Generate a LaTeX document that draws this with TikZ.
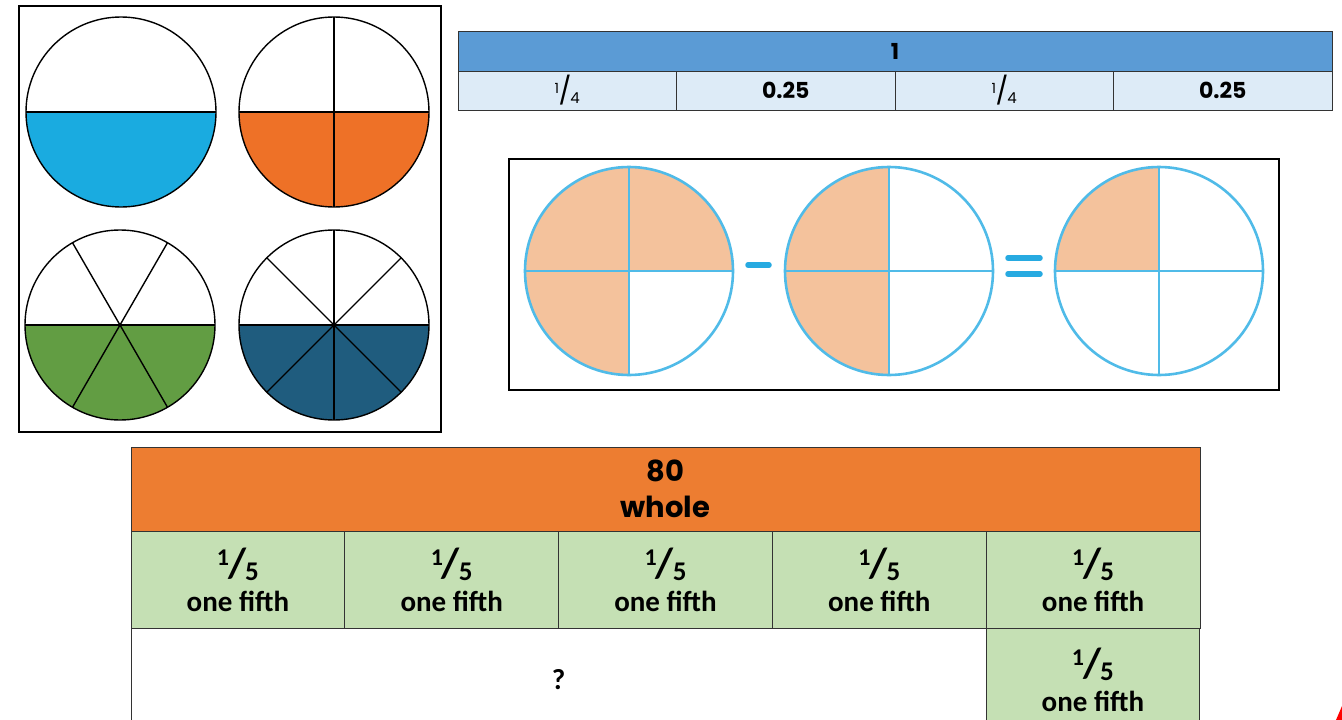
\documentclass[tikz,border=0pt]{standalone}
\usepackage{fontspec}
\setmainfont{Poppins}
\newfontfamily\calibfont{Carlito}
\usetikzlibrary{positioning}

\definecolor{halfblue}{HTML}{1AABE0}
\definecolor{quartorange}{HTML}{EE7127}
\definecolor{sixthgreen}{HTML}{629D43}
\definecolor{eighthnavy}{HTML}{1F5C7E}
\definecolor{headblue}{HTML}{5B9BD5}
\definecolor{cellblue}{HTML}{DDEBF7}
\definecolor{ringblue}{HTML}{50BBE8}
\definecolor{signblue}{HTML}{27AAE1}
\definecolor{peach}{HTML}{F4C29C}
\definecolor{barorange}{HTML}{ED7D31}
\definecolor{fifthgreen}{HTML}{C5E0B4}
\definecolor{gridgray}{HTML}{333333}

% small stacked fractions
\newcommand{\quarterfrac}[2]{\raisebox{7pt}{\fontsize{14}{14}\selectfont #1}\kern-0.5pt{\fontsize{27}{27}\selectfont /}\kern-1pt\raisebox{-3pt}{\fontsize{15}{15}\selectfont #2}}
\newcommand{\fifthfrac}[2]{\raisebox{12pt}{\fontsize{24}{24}\selectfont #1}\kern-1pt{\fontsize{42}{42}\selectfont /}\kern-1pt\raisebox{-3pt}{\fontsize{27}{27}\selectfont #2}}

\begin{document}
\begin{tikzpicture}[
    x=1pt, y=1pt,
    % Pie circles of the top left frame
    pie/.style={
        circle, draw=black, line width=1.4pt, minimum size=190pt,
        inner sep=0pt, outer sep=0pt
    },
    lowerhalf/.style={
        path picture={\fill[#1] (path picture bounding box.west) rectangle (path picture bounding box.south east);}
    },
    spoke/.style={draw=black, line width=1.4pt},
    % Quartered circles of the subtraction
    quartered/.style={
        circle, draw=ringblue, line width=2.6pt, minimum size=208pt,
        inner sep=0pt, outer sep=0pt
    },
    ringline/.style={draw=ringblue, line width=2.4pt},
    sign/.style={draw=signblue, line width=5.5pt, line cap=round},
    frame/.style={draw=black, line width=1.4pt},
    % Bar model cells
    cell/.style={
        rectangle, draw=gridgray, line width=0.9pt, anchor=north west,
        inner sep=0pt, outer sep=0pt, align=center
    },
    headcell/.style={cell, fill=headblue, minimum width=874pt, minimum height=40pt,
        font=\fontsize{22}{22}\selectfont\bfseries},
    quartercell/.style={cell, fill=cellblue, minimum width=218.5pt, minimum height=39pt,
        font=\fontsize{22}{22}\selectfont},
    wholecell/.style={cell, fill=barorange, minimum width=1069pt, minimum height=84pt,
        font=\fontsize{29}{36}\selectfont\bfseries},
    fifthcell/.style={cell, fill=fifthgreen, minimum width=213.8pt, minimum height=97pt,
        font=\calibfont\fontsize{29}{34}\selectfont\bfseries}
]
    \useasboundingbox (0,0) rectangle (1342,-720);
    \fill[white] (0,0) rectangle (1342,-720);

    % =========================================================================
    % Top left frame: halves, quarters, sixths, eighths
    % =========================================================================
    \draw[frame] (19,-6) rectangle (441,-432);

    \node[pie, lowerhalf=halfblue] (half) at (121,-112) {};
    \draw[spoke] (half.west) -- (half.east);

    \node[pie, lowerhalf=quartorange] (quarter) at (334,-112) {};
    \draw[spoke] (quarter.west) -- (quarter.east);
    \draw[spoke] (quarter.north) -- (quarter.south);

    \node[pie, lowerhalf=sixthgreen] (sixth) at (120,-325) {};
    \draw[spoke] (sixth.west) -- (sixth.east);
    \foreach \a in {60,120,240,300}
        \draw[spoke] (sixth.center) -- (sixth.\a);

    \node[pie, lowerhalf=eighthnavy] (eighth) at (334,-325) {};
    \draw[spoke] (eighth.west) -- (eighth.east);
    \foreach \a in {45,90,135,225,270,315}
        \draw[spoke] (eighth.center) -- (eighth.\a);

    % =========================================================================
    % Top right bar: 1 split into quarters
    % =========================================================================
    \node[headcell] (one) at (458,-31) {1};
    \node[quartercell] (q1) at (458,-71) {\quarterfrac{1}{4}};
    \node[quartercell, right=0pt of q1] (q2) {\bfseries 0.25};
    \node[quartercell, right=0pt of q2] (q3) {\quarterfrac{1}{4}};
    \node[quartercell, right=0pt of q3] (q4) {\bfseries 0.25};

    % =========================================================================
    % Middle frame: three quarters - one half = one quarter
    % =========================================================================
    \draw[frame] (509,-159) rectangle (1279,-390);

    \node[quartered, path picture={
        \fill[peach] (path picture bounding box.north west) rectangle (path picture bounding box.east);
        \fill[peach] (path picture bounding box.west) rectangle (path picture bounding box.south);
    }] (threeq) at (629,-271) {};
    \node[quartered, path picture={
        \fill[peach] (path picture bounding box.north west) rectangle (path picture bounding box.south);
    }] (halfq) at (889,-271) {};
    \node[quartered, path picture={
        \fill[peach] (path picture bounding box.north west) rectangle (path picture bounding box.center);
    }] (oneq) at (1159,-271) {};
    \foreach \c in {threeq,halfq,oneq} {
        \draw[ringline] (\c.north) -- (\c.south);
        \draw[ringline] (\c.west) -- (\c.east);
    }

    \draw[sign] (748,-265) -- (769,-265);
    \draw[sign] (1008,-258) -- (1040,-258);
    \draw[sign] (1008,-274) -- (1040,-274);

    % =========================================================================
    % Bottom bar model: 80 split into fifths
    % =========================================================================
    \node[wholecell] (whole) at (131,-447) {80\\whole};
    \foreach \i in {0,...,4}
        \node[fifthcell] (f\i) at ({131+213.8*\i},-531) {\fifthfrac{1}{5}\\one fifth};
    \node[cell, minimum width=855pt, minimum height=104pt,
        font=\calibfont\fontsize{29}{34}\selectfont\bfseries] (rest) at (131,-628) {?};
    \node[fifthcell, minimum height=104pt] (f5) at (986,-628) {\fifthfrac{1}{5}\\one fifth};

    % red corner mark
    \fill[red] (1336,-720) -- (1342,-706) -- (1342,-720) -- cycle;

\end{tikzpicture}
\end{document}
